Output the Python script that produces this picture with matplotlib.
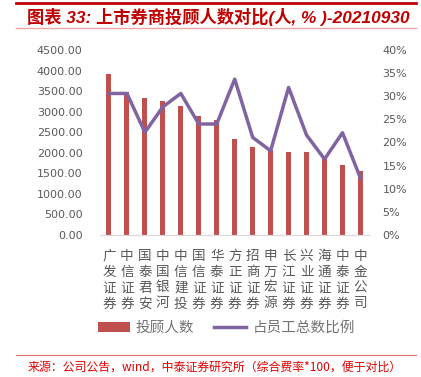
import matplotlib
matplotlib.use("Agg")
import matplotlib.pyplot as plt
from matplotlib.lines import Line2D
from matplotlib.ticker import FuncFormatter, MultipleLocator

plt.rcParams['font.family'] = ['Noto Sans CJK SC', 'DejaVu Sans']

brokers = ["广发证券", "中信证券", "国泰君安", "中国银河", "中信建投", "国信证券", "华泰证券",
           "方正证券", "招商证券", "申万宏源", "长江证券", "兴业证券", "海通证券", "中泰证券", "中金公司"]
advisors = [3910, 3470, 3340, 3250, 3140, 2890, 2790, 2330, 2140, 2070, 2030, 2010, 1860, 1700, 1560]
ratio = [30.6, 30.6, 22.2, 27.7, 30.6, 24.0, 24.0, 33.7, 21.1, 18.2, 31.9, 21.6, 16.4, 22.1, 12.3]

BAR_C = "#C0504D"
LINE_C = "#8064A2"
GRAY = "#595959"

fig = plt.figure(figsize=(4.21, 3.77), dpi=100)
ax = fig.add_axes([0.2375, 0.3767, 0.640, 0.4907])
x = range(len(brokers))
ax.bar(x, advisors, width=0.28, color=BAR_C, label="投顾人数")
ax.set_xlim(-0.5, len(brokers) - 0.5)
ax.set_ylim(0, 4500)
ax.yaxis.set_major_locator(MultipleLocator(500))
ax.yaxis.set_major_formatter(FuncFormatter(lambda v, p: f"{v:.2f}"))
ax.set_xticks(list(x))
ax.set_xticklabels(["\n".join(b) for b in brokers], linespacing=1.17, fontsize=9.8, color=GRAY)

ax2 = ax.twinx()
ax2.plot(x, ratio, color=LINE_C, lw=2.5, label="占员工总数比例")
ax2.set_ylim(0, 40)
ax2.yaxis.set_major_locator(MultipleLocator(5))
ax2.yaxis.set_major_formatter(FuncFormatter(lambda v, p: f"{v:.0f}%"))

for a in (ax, ax2):
    for s in ("top", "left", "right"):
        a.spines[s].set_visible(False)
    a.spines["bottom"].set_color("#D9D9D9")
    a.tick_params(length=0, labelcolor=GRAY)
    for t in a.get_yticklabels():
        t.set_family("DejaVu Sans")
        t.set_fontsize(8)
ax.tick_params(axis="x", pad=10)
ax.tick_params(axis="y", pad=12.5)
ax2.tick_params(axis="y", pad=9.5)

h1, l1 = ax.get_legend_handles_labels()
h2, l2 = ax2.get_legend_handles_labels()
fig.legend(h1 + h2, l1 + l2, loc="center", bbox_to_anchor=(0.537, 0.13), ncol=2,
           frameon=False, fontsize=10.5, labelcolor="#737373", handlelength=2.2,
           columnspacing=1.4, handletextpad=0.4)

# title and decorations
fig.add_artist(Line2D([0.038, 0.988], [0.993, 0.993], color="#C00000", lw=2))
fig.text(0.065, 0.955, "图表 33: 上市券商投顾人数对比(人, % )-20210930", ha="left", va="center",
         fontsize=12.4, color="#C00000", fontweight="bold", style="italic",
         family=["Liberation Sans", "Noto Sans CJK SC"])
fig.add_artist(Line2D([0.038, 0.988], [0.926, 0.926], color="#EBA5A5", lw=1))
fig.add_artist(Line2D([0.038, 0.988], [0.058, 0.058], color="#E07070", lw=0.8))
fig.text(0.065, 0.024, "来源：公司公告，wind，中泰证券研究所（综合费率*100，便于对比）", ha="left", va="center",
         fontsize=8.6, color="#E00000")

fig.savefig("out.png", dpi=100)
